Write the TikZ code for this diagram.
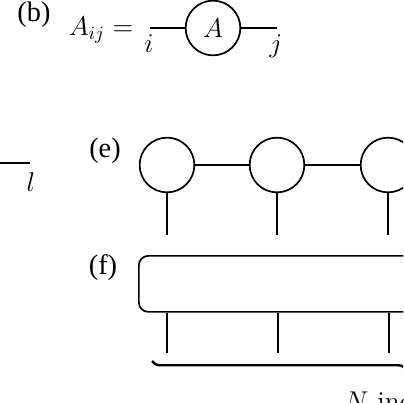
\documentclass[tikz,border=0pt]{standalone}
\usepackage{amsmath}
\usepackage{amssymb}
\usepackage{fontspec}
\newfontfamily\lblfont{Liberation Serif}
\usetikzlibrary{calc,decorations.pathreplacing}

\begin{document}
\begin{tikzpicture}[x=0.53pt,y=-0.53pt,
    site/.style={draw,circle,line width=0.9pt,minimum size=29pt,inner sep=0pt,font=\Large},
    leg/.style={line width=0.9pt},
    lbl/.style={font=\lblfont\fontsize{15}{17}\selectfont}]
    \useasboundingbox (0,0) rectangle (403,403);
    \clip (0,0) rectangle (403,403);

    % Panel (b): a single matrix
    \node[lbl] (labb) at (34,15) {(b)};
    \node[font=\Large] (Aij) at (101,30) {$A_{ij} =$};
    \node[site] (A) at (213,28) {$A$};
    \coordinate (bi) at (150,28);
    \coordinate (bj) at (277,28);
    \draw[leg] (bi) -- (A) -- (bj);
    \node[font=\Large] (i) at (149,44) {$i$};
    \node[font=\Large] (j) at (276,46) {$j$};

    % Left over: an open leg
    \coordinate (lstart) at (-5,163);
    \coordinate (lend) at (30,163);
    \draw[leg] (lstart) -- (lend);
    \node[font=\Large] (l) at (31,182) {$l$};

    % Panel (e): chain of tensors
    \node[lbl] (labe) at (105,151) {(e)};
    \foreach \n/\x in {1/167,2/277,3/388} {
        \node[site] (e\n) at (\x,165) {};
        \coordinate (ef\n) at (\x,235);
        \draw[leg] (e\n) -- (ef\n);
    }
    \draw[leg] (e1) -- (e2) -- (e3);

    % Panel (f): one big tensor
    \node[lbl] (labf) at (103,268) {(f)};
    \node[draw,line width=0.9pt,rounded corners=5pt,anchor=north west,
          minimum width=181pt,minimum height=29.7pt,inner sep=0pt] (F) at (138,255) {};
    \foreach \n/\x in {1/167,2/278,3/389} {
        \coordinate (ff\n) at (\x,353);
        \draw[leg] (ff\n |- F.south) -- (ff\n);
    }

    % Brace under the legs
    \coordinate (bl) at (152,361);
    \coordinate (br) at (660,361);
    \draw[line width=1.3pt,decorate,decoration={brace,mirror,amplitude=4.5pt}] (bl) -- (br);
    \node[font=\Large,anchor=north west,inner sep=0pt] (Nlab) at (344,391) {$N$ indices};
\end{tikzpicture}
\end{document}
